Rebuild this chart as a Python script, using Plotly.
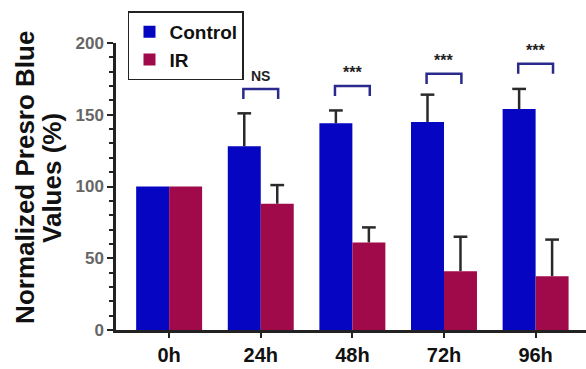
import plotly.graph_objects as go

categories = ["0h", "24h", "48h", "72h", "96h"]
control = [100, 128, 144, 145, 154]
control_err = [0, 23, 9, 19, 14]
ir = [100, 88, 61, 41, 37.5]
ir_err = [0, 13, 10.5, 24, 25.5]

sig_labels = ["NS", "***", "***", "***"]
sig_categories = ["24h", "48h", "72h", "96h"]
sig_heights = [168, 170, 178.5, 185.5]

y_title_lines = ["Normalized Presro Blue", "Values (%)"]

blue = "#0505c2"
red = "#a00a4a"
bracket_color = "#2a2a8c"
err_color = "#2a2a2a"

BARGAP = 0.28
FONT = "Liberation Sans, Arial"

fig = go.Figure()
fig.add_trace(go.Bar(x=categories, y=control, name="Control",
                     marker=dict(color=blue, line=dict(width=0))))
fig.add_trace(go.Bar(x=categories, y=ir, name="IR",
                     marker=dict(color=red, line=dict(width=0))))

# upward-only error bars, positioned at the grouped bar centres
bar_w = (1 - BARGAP) / 2
cap = 0.075
for vals, errs, off in [(control, control_err, -bar_w / 2), (ir, ir_err, bar_w / 2)]:
    for i, (v, e) in enumerate(zip(vals, errs)):
        if e <= 0:
            continue
        xc = i + off
        fig.add_shape(type="line", x0=xc, x1=xc, y0=v, y1=v + e,
                      line=dict(color=err_color, width=2.5), xref="x", yref="y")
        fig.add_shape(type="line", x0=xc - cap, x1=xc + cap, y0=v + e, y1=v + e,
                      line=dict(color=err_color, width=2.5), xref="x", yref="y")

half = 0.19
leg = 7
for lab, cat, h in zip(sig_labels, sig_categories, sig_heights):
    i = categories.index(cat)
    fig.add_shape(type="path",
                  path=f"M {i-half},{h-leg} L {i-half},{h} L {i+half},{h} L {i+half},{h-leg}",
                  line=dict(color=bracket_color, width=2.5), xref="x", yref="y")
    fig.add_annotation(x=i, y=h + 2, text=f"<b>{lab}</b>", showarrow=False, yanchor="bottom",
                       font=dict(family=FONT, size=14 if lab == "NS" else 16, color="#222222"))

for line_txt, xpos in zip(y_title_lines, [-0.1936, -0.136]):
    fig.add_annotation(x=xpos, xref="paper", xanchor="center", y=0.53, yref="paper",
                       yanchor="middle", textangle=-90,
                       text=f"<b>{line_txt}</b>", showarrow=False,
                       font=dict(family=FONT, size=26, color="#111111"))

fig.update_layout(
    width=586, height=369,
    margin=dict(l=116, r=0, t=43, b=39),
    paper_bgcolor="white", plot_bgcolor="white",
    barmode="group", bargap=BARGAP, bargroupgap=0,
    showlegend=True,
    legend=dict(x=0.0255, y=1.11, xanchor="left", yanchor="top",
                bordercolor="#222222", borderwidth=1.5, bgcolor="white",
                font=dict(family=FONT, size=19, color="#111111", weight="bold"),
                itemwidth=30, tracegroupgap=0),
    xaxis=dict(range=[-0.58, 4.55], showline=True, linecolor="#222222", linewidth=2.5,
               ticks="outside", tickcolor="#222222", ticklen=5, tickwidth=2,
               tickfont=dict(family=FONT, size=20, color="#111111", weight="bold"),
               showgrid=False, zeroline=False),
    yaxis=dict(range=[0, 200], showline=True, linecolor="#222222", linewidth=2.5,
               tickvals=[0, 50, 100, 150, 200], ticks="outside", tickcolor="#222222",
               ticklen=6, tickwidth=2,
               minor=dict(dtick=10, ticks="outside", ticklen=4, tickcolor="#222222", tickwidth=2),
               tickfont=dict(family=FONT, size=17, color="#666666", weight="bold"),
               showgrid=False, zeroline=False),
)

fig.write_html("out.html")
